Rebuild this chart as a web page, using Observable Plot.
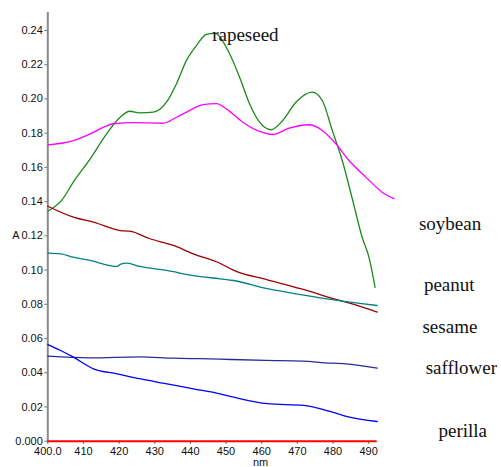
<!DOCTYPE html>
<html>
<head>
<meta charset="utf-8">
<script src="https://cdn.jsdelivr.net/npm/d3@7"></script>
<script src="https://cdn.jsdelivr.net/npm/@observablehq/plot@0.6"></script>
<style>
  html, body { margin: 0; padding: 0; background: #fff; }
  #chart { width: 501px; height: 467px; overflow: hidden; }
</style>
</head>
<body>
<div id="chart"></div>
<script>
// wavelength (nm) and absorbance (A)
const greenNm = [400.0, 404.0, 407.2, 411.9, 416.5, 420.3, 423.0, 425.8, 429.6, 433.3, 436.1, 438.9, 441.7, 444.5, 446.8, 451.0, 453.8, 456.6, 459.4, 462.6, 465.9, 469.6, 474.2, 477.0, 479.8, 482.6, 485.4, 488.2, 490.1, 491.8];
const greenA  = [0.1344, 0.1410, 0.1515, 0.1650, 0.1796, 0.1893, 0.1928, 0.1919, 0.1923, 0.1981, 0.2089, 0.2225, 0.2312, 0.2377, 0.2383, 0.2264, 0.2127, 0.1972, 0.1864, 0.1820, 0.1874, 0.1981, 0.2040, 0.1991, 0.1816, 0.1640, 0.1418, 0.1190, 0.1074, 0.0899];

const magentaNm = [400.0, 407.2, 411.9, 415.6, 418.4, 424.0, 432.3, 436.1, 439.8, 443.5, 447.3, 450.1, 454.7, 459.4, 463.1, 467.7, 473.3, 477.0, 480.8, 484.5, 489.2, 493.8, 497.1];
const magentaA  = [0.1732, 0.1757, 0.1796, 0.1835, 0.1855, 0.1861, 0.1858, 0.1893, 0.1933, 0.1967, 0.1972, 0.1942, 0.1864, 0.1810, 0.1792, 0.1829, 0.1849, 0.1816, 0.1738, 0.1640, 0.1543, 0.1455, 0.1417];

const redNm = [400.0, 407.2, 412.8, 420.3, 423.0, 428.7, 435.2, 440.8, 448.3, 452.2, 461.6, 470.9, 480.3, 486.8, 492.4];
const redA  = [0.1373, 0.1309, 0.1280, 0.1231, 0.1227, 0.1183, 0.1144, 0.1095, 0.1040, 0.0998, 0.0943, 0.0891, 0.0832, 0.0793, 0.0754];

const tealNm = [400.0, 403.6, 407.2, 411.9, 419.4, 420.3, 422.2, 425.8, 433.3, 440.8, 448.3, 452.2, 461.6, 470.9, 480.3, 492.4];
const tealA  = [0.1099, 0.1095, 0.1075, 0.1056, 0.1021, 0.1033, 0.1040, 0.1021, 0.0998, 0.0968, 0.0949, 0.0939, 0.0891, 0.0857, 0.0826, 0.0793];

const navyNm = [400.0, 411.9, 425.8, 435.2, 442.6, 448.3, 461.2, 471.5, 477.9, 483.5, 492.4];
const navyA  = [0.0497, 0.0487, 0.0493, 0.0485, 0.0482, 0.0479, 0.0472, 0.0468, 0.0458, 0.0452, 0.0427];

const blueNm = [400.0, 403.6, 407.2, 412.8, 419.4, 425.8, 432.3, 440.8, 448.3, 452.2, 461.6, 471.8, 478.3, 484.0, 492.4];
const blueA  = [0.0565, 0.0530, 0.0491, 0.0423, 0.0394, 0.0365, 0.0339, 0.0306, 0.0277, 0.0257, 0.0219, 0.0209, 0.0179, 0.0144, 0.0115];

const seriesColors = ["#1a8a1a", "#ff00ff", "#990000", "#008080", "#2a2a9a", "#0000ff"];

// annotation labels and where they sit (nm, A)
const labelNames = ["rapeseed", "soybean", "peanut", "sesame", "safflower", "perilla"];
const labelNm    = [446.1, 504.1, 505.5, 505.1, 506.0, 509.6];
const labelA     = [0.2336, 0.1235, 0.0875, 0.0631, 0.0390, 0.0023];

const xTicks = [400, 410, 420, 430, 440, 450, 460, 470, 480, 490];
const xTickLabels = ["400.0", "410", "420", "430", "440", "450", "460", "470", "480", "490"];
const yTicks = [0, 0.02, 0.04, 0.06, 0.08, 0.10, 0.12, 0.14, 0.16, 0.18, 0.20, 0.22, 0.24];
const yTickLabels = ["0.000", "0.02", "0.04", "0.06", "0.08", "0.10", "0.12", "0.14", "0.16", "0.18", "0.20", "0.22", "0.24"];

const allNm = [greenNm, magentaNm, redNm, tealNm, navyNm, blueNm];
const allA = [greenA, magentaA, redA, tealA, navyA, blueA];
const lines = allNm.flatMap((nms, s) => nms.map((nm, i) => ({s, nm, a: allA[s][i]})));
const labels = labelNames.map((name, i) => ({name, nm: labelNm[i], a: labelA[i]}));

const axisFont = "Liberation Sans, Arial, sans-serif";

const chart = Plot.plot({
  width: 501,
  height: 467,
  marginLeft: 47.3,
  marginRight: 124.3,
  marginTop: 12,
  marginBottom: 26.3,
  style: {fontFamily: axisFont, fontSize: "11px", background: "white", overflow: "hidden"},
  x: {domain: [400, 492.4], axis: null},
  y: {domain: [0, 0.2505], axis: null},
  marks: [
    Plot.ruleX([400], {stroke: "#8a8a8a", strokeWidth: 2}),
    Plot.axisY(yTicks, {anchor: "left", tickSize: 3, tickPadding: 2, stroke: "#777", fill: "#111", label: null,
      tickFormat: (d, i) => yTickLabels[i], fontSize: 11, fontFamily: axisFont}),
    Plot.axisX(xTicks, {anchor: "bottom", tickSize: 3, tickPadding: 3, stroke: "#555", fill: "#111", label: null,
      tickFormat: (d, i) => xTickLabels[i], fontSize: 11, fontFamily: axisFont}),
    Plot.line(lines, {x: "nm", y: "a", z: "s", stroke: d => seriesColors[d.s], strokeWidth: 1.3, curve: "monotone-x"}),
    Plot.ruleY([0], {stroke: "#ff0000", strokeWidth: 2}),
    Plot.text(["A"], {x: 400, y: 0.12, dx: -32, text: d => d, fill: "#111", fontSize: 11, fontFamily: axisFont}),
    Plot.text(["nm"], {x: 459.7, y: -0.0142, text: d => d, lineAnchor: "bottom", fill: "#111", fontSize: 11, fontFamily: axisFont}),
    Plot.text(labels, {x: "nm", y: "a", text: "name", textAnchor: "start", lineAnchor: "bottom",
      fill: "#111", fontSize: 19, fontFamily: "Liberation Serif, Times New Roman, serif"})
  ]
});
document.getElementById("chart").appendChild(chart);
</script>
</body>
</html>
